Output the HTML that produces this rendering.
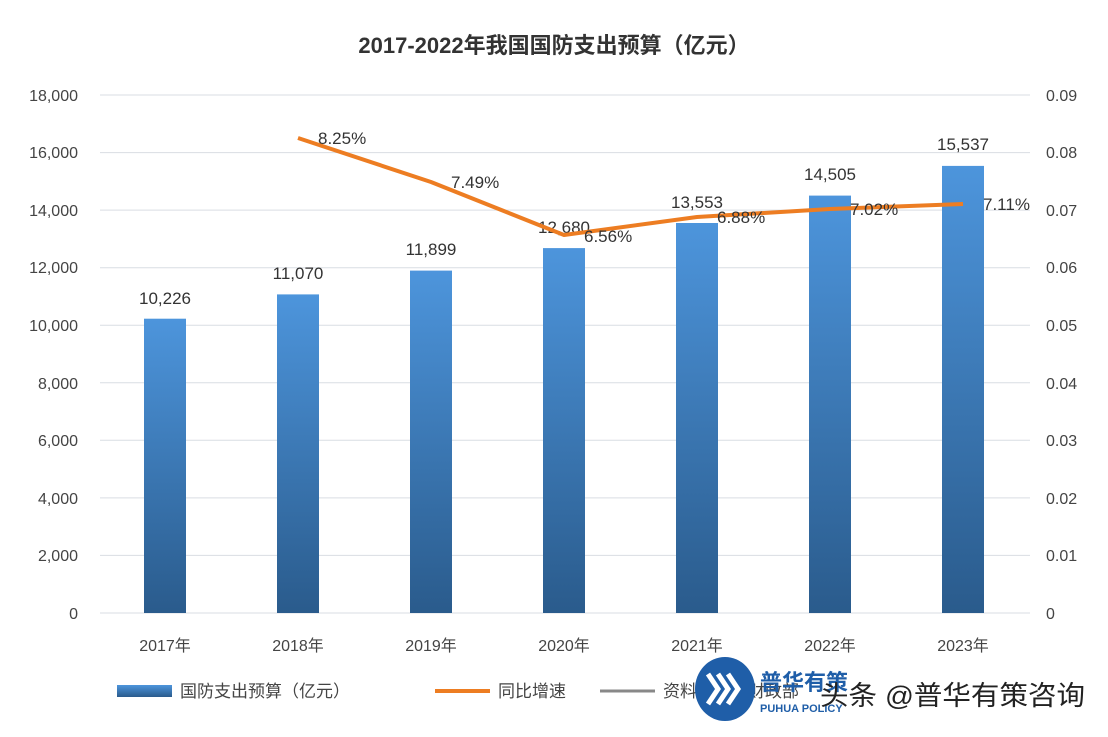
<!DOCTYPE html>
<html><head><meta charset="utf-8"><style>
body{margin:0;background:#fff;}
svg text{font-family:"Liberation Sans","Noto Sans CJK SC",sans-serif;}
</style></head><body>
<svg width="1108" height="732" viewBox="0 0 1108 732" xmlns="http://www.w3.org/2000/svg">
<defs><linearGradient id="g" x1="0" y1="0" x2="0" y2="1">
<stop offset="0" stop-color="#4d95dc"/><stop offset="1" stop-color="#2a5b8c"/></linearGradient></defs>
<rect width="1108" height="732" fill="#fff"/>
<text x="554" y="53" text-anchor="middle" font-size="22" font-weight="bold" fill="#333">2017-2022年我国国防支出预算（亿元）</text>
<g stroke="#d9dde3" stroke-width="1">
<line x1="100" x2="1030" y1="95" y2="95"/><line x1="100" x2="1030" y1="152.6" y2="152.6"/>
<line x1="100" x2="1030" y1="210.1" y2="210.1"/><line x1="100" x2="1030" y1="267.7" y2="267.7"/>
<line x1="100" x2="1030" y1="325.2" y2="325.2"/><line x1="100" x2="1030" y1="382.8" y2="382.8"/>
<line x1="100" x2="1030" y1="440.3" y2="440.3"/><line x1="100" x2="1030" y1="497.9" y2="497.9"/>
<line x1="100" x2="1030" y1="555.4" y2="555.4"/><line x1="100" x2="1030" y1="613" y2="613"/>
</g>
<g font-size="16" fill="#444" text-anchor="end">
<text x="78" y="101">18,000</text><text x="78" y="158">16,000</text><text x="78" y="216">14,000</text>
<text x="78" y="273">12,000</text><text x="78" y="331">10,000</text><text x="78" y="389">8,000</text>
<text x="78" y="446">6,000</text><text x="78" y="504">4,000</text><text x="78" y="561">2,000</text><text x="78" y="619">0</text>
</g>
<g font-size="16" fill="#444" text-anchor="start">
<text x="1046" y="101">0.09</text><text x="1046" y="158">0.08</text><text x="1046" y="216">0.07</text>
<text x="1046" y="273">0.06</text><text x="1046" y="331">0.05</text><text x="1046" y="389">0.04</text>
<text x="1046" y="446">0.03</text><text x="1046" y="504">0.02</text><text x="1046" y="561">0.01</text><text x="1046" y="619">0</text>
</g>
<g fill="url(#g)">
<rect x="144" y="318.7" width="42" height="294.3"/>
<rect x="277" y="294.4" width="42" height="318.6"/>
<rect x="410" y="270.6" width="42" height="342.4"/>
<rect x="543" y="248.1" width="42" height="364.9"/>
<rect x="676" y="223" width="42" height="390"/>
<rect x="809" y="195.6" width="42" height="417.4"/>
<rect x="942" y="165.9" width="42" height="447.1"/>
</g>
<g font-size="17" fill="#333" text-anchor="middle">
<text x="165" y="304">10,226</text><text x="298" y="279">11,070</text><text x="431" y="255">11,899</text>
<text x="564" y="233">12,680</text><text x="697" y="208">13,553</text><text x="830" y="180">14,505</text><text x="963" y="150">15,537</text>
</g>
<polyline points="298,138 431,182 564,235 697,217 830,209 963,204" fill="none" stroke="#ed7d22" stroke-width="4" stroke-linejoin="round"/>
<g font-size="17" fill="#333">
<text x="318" y="144">8.25%</text><text x="451" y="188">7.49%</text><text x="584" y="242">6.56%</text>
<text x="717" y="223">6.88%</text><text x="850" y="215">7.02%</text><text x="983" y="210">7.11%</text>
</g>
<g font-size="16" fill="#444" text-anchor="middle">
<text x="165" y="651">2017年</text><text x="298" y="651">2018年</text><text x="431" y="651">2019年</text>
<text x="564" y="651">2020年</text><text x="697" y="651">2021年</text><text x="830" y="651">2022年</text><text x="963" y="651">2023年</text>
</g>
<rect x="117" y="685" width="55" height="12" fill="url(#g)"/>
<text x="180" y="697" font-size="17" fill="#444">国防支出预算（亿元）</text>
<line x1="435" x2="490" y1="691" y2="691" stroke="#ed7d22" stroke-width="4"/>
<text x="498" y="697" font-size="17" fill="#444">同比增速</text>
<line x1="600" x2="655" y1="691" y2="691" stroke="#888" stroke-width="3"/>
<text x="663" y="697" font-size="17" fill="#444">资料来源：财政部</text>
<ellipse cx="725" cy="689" rx="30" ry="32" fill="#1f5ea8"/>
<path d="M708 674 l10 15 l-10 15 M718 674 l10 15 l-10 15 M728 674 l10 15 l-10 15" stroke="#fff" stroke-width="5" fill="none"/>
<text x="760" y="690" font-size="22" font-weight="bold" fill="#1f5ea8">普华有策</text>
<text x="760" y="712" font-size="11" font-weight="bold" fill="#1f5ea8">PUHUA POLICY</text>
<text x="820" y="705" font-size="27" fill="#222" textLength="265" lengthAdjust="spacingAndGlyphs">头条 @普华有策咨询</text>
</svg>
</body></html>
